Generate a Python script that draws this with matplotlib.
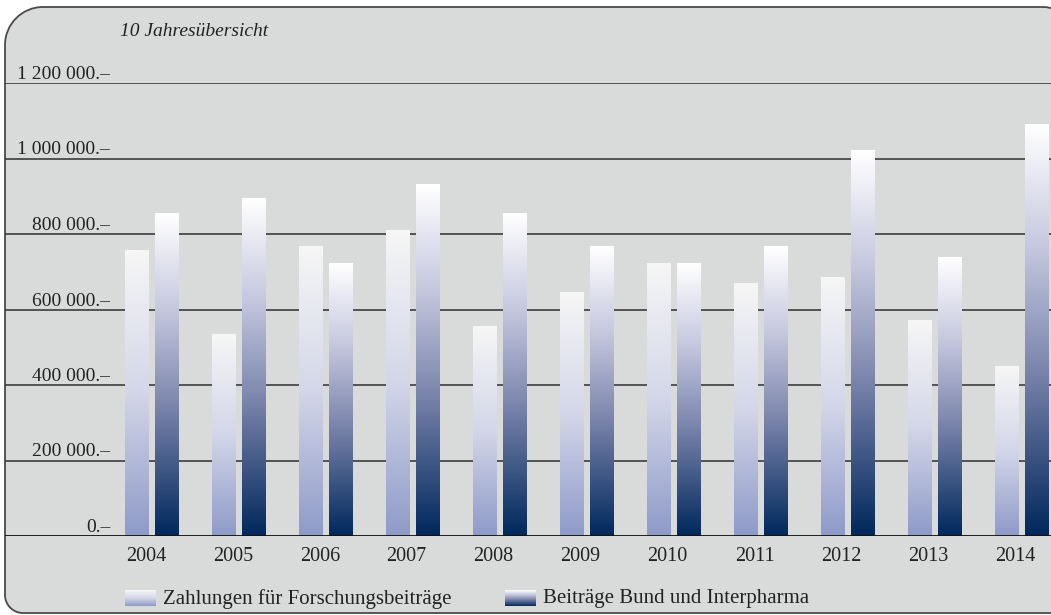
import matplotlib
matplotlib.use("Agg")
import matplotlib.pyplot as plt
import numpy as np
from matplotlib.colors import LinearSegmentedColormap
from matplotlib.patches import PathPatch
from matplotlib.path import Path

# 10-year overview, values in CHF
YEARS = ["2004", "2005", "2006", "2007", "2008", "2009",
         "2010", "2011", "2012", "2013", "2014"]
ZAHLUNGEN = [755000, 535000, 766000, 808000, 556000, 644000,
             721000, 670000, 686000, 572000, 448000]
BEITRAEGE = [853000, 893000, 721000, 930000, 853000, 768000,
             721000, 768000, 1020000, 739000, 1089000]
Y_TICKS = [0, 200000, 400000, 600000, 800000, 1000000, 1200000]
Y_LABELS = ["0.–", "200 000.–", "400 000.–", "600 000.–",
            "800 000.–", "1 000 000.–", "1 200 000.–"]
LEGEND = ["Zahlungen für Forschungsbeiträge", "Beiträge Bund und Interpharma"]

W, H = 1051, 615
BG = "#d9dbda"
TXT = "#222222"
SERIF = ["Liberation Serif", "DejaVu Serif"]

light_cmap = LinearSegmentedColormap.from_list(
    "light", [(0, "#f6f6f6"), (0.5, "#d3d6e8"), (1, "#8e9ac8")])
dark_cmap = LinearSegmentedColormap.from_list(
    "dark", [(0, "#ffffff"), (0.3, "#c5c7de"), (0.6, "#7a84ab"), (1, "#00285c")])

grad = np.linspace(0, 1, 256).reshape(-1, 1)


def fill_gradient(ax, patch, cmap):
    # white at the top of the bar, full colour at the base
    x, w, h = patch.get_x(), patch.get_width(), patch.get_height()
    ax.imshow(grad, cmap=cmap, extent=[x, x + w, 0, h], origin="upper",
              aspect="auto", zorder=3, interpolation="bilinear")


def panel_path(x0, y0, x1, y1, r_tl, r_bl, r_tr):
    # rounded box in pixel coords (y down), returned in figure fractions
    k = 0.5523
    pts = [(x0 + r_tl, y0), (x1 - r_tr, y0),
           (x1 - r_tr + k * r_tr, y0), (x1, y0 + r_tr - k * r_tr), (x1, y0 + r_tr),
           (x1, y1), (x0 + r_bl, y1),
           (x0 + r_bl - k * r_bl, y1), (x0, y1 - r_bl + k * r_bl), (x0, y1 - r_bl),
           (x0, y0 + r_tl),
           (x0, y0 + r_tl - k * r_tl), (x0 + r_tl - k * r_tl, y0), (x0 + r_tl, y0)]
    codes = [Path.MOVETO, Path.LINETO,
             Path.CURVE4, Path.CURVE4, Path.CURVE4,
             Path.LINETO, Path.LINETO,
             Path.CURVE4, Path.CURVE4, Path.CURVE4,
             Path.LINETO,
             Path.CURVE4, Path.CURVE4, Path.CURVE4]
    pts = [(px / W, 1 - py / H) for px, py in pts]
    return Path(pts, codes)


def main():
    fig = plt.figure(figsize=(W / 100, H / 100), dpi=100)
    fig.patch.set_facecolor("white")

    panel = PathPatch(panel_path(5, 7, 1075, 613, 38, 18, 32),
                      transform=fig.transFigure, facecolor=BG,
                      edgecolor="#4a4a4a", linewidth=1.3, zorder=-10)
    fig.patches.append(panel)

    ax = fig.add_axes([5 / W, 79 / H, 1046 / W, 453 / H])
    ax.set_facecolor("none")
    x = np.arange(len(YEARS))
    off, bw = 0.172, 0.268

    b1 = ax.bar(x - off, ZAHLUNGEN, bw, color="none", zorder=3)
    b2 = ax.bar(x + off, BEITRAEGE, bw, color="none", zorder=3)
    for p in b1:
        fill_gradient(ax, p, light_cmap)
    for p in b2:
        fill_gradient(ax, p, dark_cmap)

    for v in Y_TICKS[1:]:
        ax.axhline(v, color="#3c3c3c", lw=1.2, zorder=1)
    ax.axhline(0, color="#111111", lw=1.3, zorder=4)

    ytr = ax.get_yaxis_transform()
    for v, lab in zip(Y_TICKS, Y_LABELS):
        ax.text(0.1005, v, lab, transform=ytr, ha="right", va="bottom",
                fontsize=14, color=TXT, family=SERIF, zorder=5)

    ax.set_xlim(-1.69, 10.34)
    ax.set_ylim(0, 1200000)
    ax.set_xticks(x - 0.07)
    ax.set_xticklabels(YEARS, fontsize=14.5, color=TXT, family=SERIF)
    ax.tick_params(axis="x", length=0, pad=8)
    ax.set_yticks([])
    for s in ax.spines.values():
        s.set_visible(False)

    fig.text(120 / W, 1 - 32 / H, "10 Jahresübersicht", fontsize=14,
             style="italic", color=TXT, family=SERIF, va="center")

    # legend swatches with the same gradients
    for (px, cmap, lab) in [(125, light_cmap, LEGEND[0]),
                            (505, dark_cmap, LEGEND[1])]:
        sw = fig.add_axes([px / W, 1 - 606 / H, 31 / W, 16 / H])
        sw.imshow(grad, cmap=cmap, aspect="auto")
        sw.axis("off")
        fig.text((px + 38) / W, 1 - 599 / H, lab, fontsize=15, color=TXT,
                 family=SERIF, va="center")

    fig.savefig("out.png", dpi=100, facecolor=fig.get_facecolor())


if __name__ == "__main__":
    main()
